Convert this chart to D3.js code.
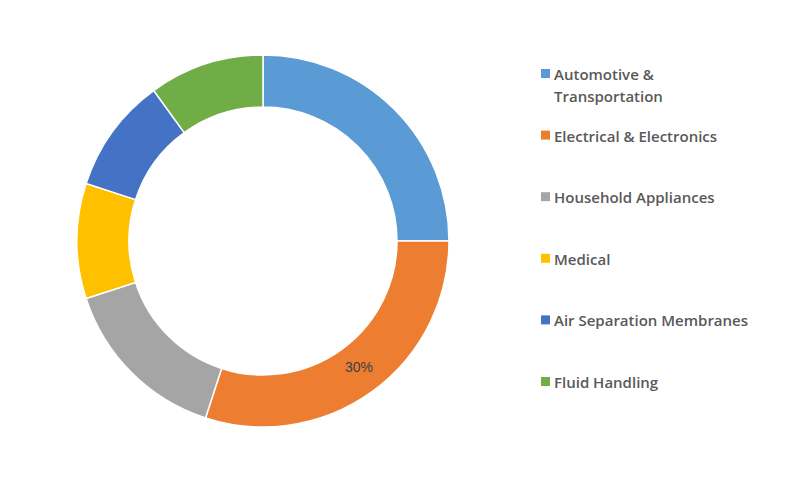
<!DOCTYPE html>
<html><head><meta charset="utf-8">
<script src="https://cdn.jsdelivr.net/npm/d3@7"></script>
<style>body{margin:0;background:#fff}</style>
</head><body>
<svg id="chart" width="800" height="482"></svg>
<script>
// datos del gráfico
const categories = ["Automotive & Transportation", "Electrical & Electronics", "Household Appliances", "Medical", "Air Separation Membranes", "Fluid Handling"];
const legendLines = [["Automotive &", "Transportation"], ["Electrical & Electronics"], ["Household Appliances"], ["Medical"], ["Air Separation Membranes"], ["Fluid Handling"]];
const shares = [25, 30, 15, 10, 10, 10];
const colors = ["#5B9BD5", "#ED7D31", "#A5A5A5", "#FFC000", "#4472C4", "#70AD47"];
const shownLabels = [null, "30%", null, null, null, null];

const svg = d3.select('#chart');
const cx = 263, cy = 241, outerR = 186, innerR = 134;

const pie = d3.pie().sort(null).value(d => d)(shares);
const arc = d3.arc().innerRadius(innerR).outerRadius(outerR);
const g = svg.append('g').attr('transform', `translate(${cx},${cy})`);

g.selectAll('path').data(pie).enter().append('path')
    .attr('d', arc)
    .style('fill', (d, i) => colors[i])
    .style('stroke', '#fff')
    .style('stroke-width', '1.5px');

const labelArc = d3.arc().innerRadius(160).outerRadius(160);
g.selectAll('.lbl').data(pie).enter()
    .filter((d, i) => shownLabels[i])
    .append('text')
    .attr('transform', d => { const c = labelArc.centroid(d); return `translate(${c[0] + 2},${c[1] - 3})`; })
    .attr('text-anchor', 'middle')
    .attr('dominant-baseline', 'central')
    .style('font-family', 'Liberation Sans, Arial, sans-serif')
    .style('font-size', '14px')
    .style('fill', '#404040')
    .text((d, i) => shownLabels[d.index]);

// leyenda
const ly = d3.scalePoint().domain(categories).range([74, 382]);
const leg = svg.selectAll('.leg').data(categories).enter().append('g')
    .attr('transform', d => `translate(541,${ly(d)})`);
leg.append('rect').attr('x', 0).attr('y', -5).attr('width', 9).attr('height', 9)
    .style('fill', (d, i) => colors[i]);
leg.append('text')
    .attr('x', 13).attr('y', 0)
    .attr('dominant-baseline', 'central')
    .style('font-family', 'Open Sans, sans-serif')
    .style('font-size', '15px')
    .style('font-weight', '600')
    .style('fill', '#595959')
    .selectAll('tspan').data((d, i) => legendLines[i]).enter().append('tspan')
    .attr('x', 13).attr('dy', (t, j) => j ? 22 : 0)
    .text(t => t);
</script>
</body></html>
